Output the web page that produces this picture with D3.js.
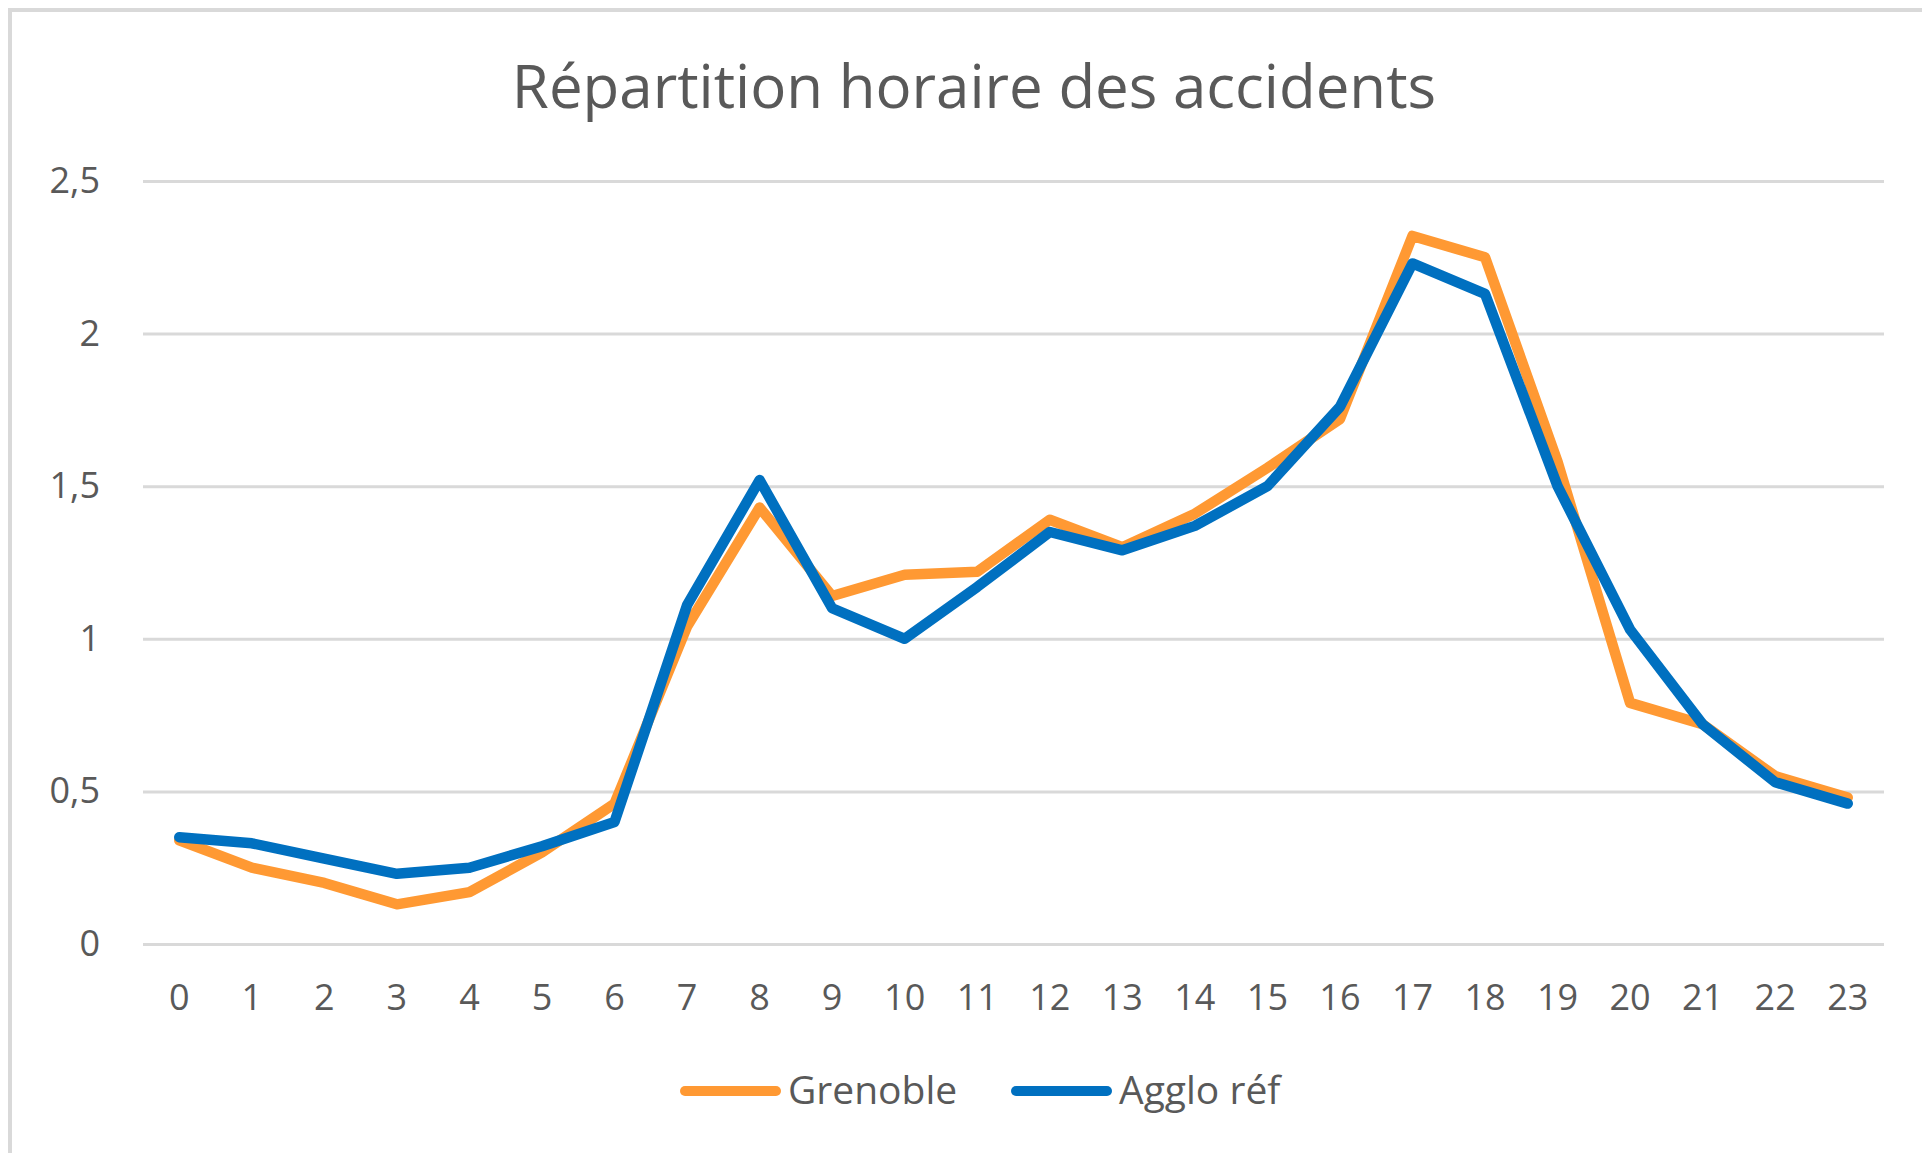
<!DOCTYPE html>
<html>
<head>
<meta charset="utf-8">
<script src="https://cdn.jsdelivr.net/npm/d3@7"></script>
<style>
  body { margin: 0; background: #fff; }
  svg text { font-family: "Open Sans", sans-serif; fill: #595959; }
  .grid line { stroke: #d9d9d9; stroke-width: 3; }
  .serie { fill: none; stroke-width: 10.5; stroke-linejoin: round; stroke-linecap: round; }
</style>
</head>
<body>
<svg width="1922" height="1153"></svg>
<script>
// heures de la journee
var heures = d3.range(0, 24);
// valeurs
var grenoble = [0.34, 0.25, 0.20, 0.13, 0.17, 0.30, 0.46, 1.04, 1.43, 1.14, 1.21, 1.22,
                1.39, 1.30, 1.41, 1.56, 1.72, 2.32, 2.25, 1.58, 0.79, 0.72, 0.55, 0.48];
var agglo = [0.35, 0.33, 0.28, 0.23, 0.25, 0.32, 0.40, 1.11, 1.52, 1.10, 1.00, 1.17,
             1.35, 1.29, 1.37, 1.50, 1.76, 2.23, 2.13, 1.50, 1.03, 0.72, 0.53, 0.46];
var yTicks = [0, 0.5, 1, 1.5, 2, 2.5];
var series = [
  { nom: "Grenoble", valeurs: grenoble, couleur: "#ff9933" },
  { nom: "Agglo réf", valeurs: agglo, couleur: "#0070c0" }
];

var svg = d3.select("svg");

// cadre (bords haut et gauche visibles)
svg.append("path")
    .attr("d", "M10,1153 V10 H1922")
    .attr("fill", "none")
    .attr("stroke", "#d9d9d9")
    .attr("stroke-width", 4);

// zone de trace
var plot = { left: 143, right: 1884, top: 181, bottom: 944 };

var x = d3.scaleBand().domain(heures).range([plot.left, plot.right]);
var y = d3.scaleLinear().domain([0, 2.5]).range([plot.bottom, plot.top]);

var fr = d3.formatLocale({ decimal: ",", thousands: " ", grouping: [3], currency: ["", " €"] });
var fmt = fr.format("~g");

// titre
svg.append("text")
    .attr("x", 974)
    .attr("y", 108)
    .attr("text-anchor", "middle")
    .style("font-size", "60px")
    .text("Répartition horaire des accidents");

// grille + axe y
var gy = svg.append("g")
    .attr("class", "grid")
    .attr("transform", "translate(" + plot.left + ",0)")
    .call(d3.axisLeft(y).tickValues(yTicks).tickSize(-(plot.right - plot.left)).tickPadding(43).tickFormat(fmt));
gy.select(".domain").remove();
gy.selectAll("text").style("font-size", "36px").attr("fill", "#595959");

// axe x
var gx = svg.append("g")
    .attr("transform", "translate(0," + plot.bottom + ")")
    .call(d3.axisBottom(x).tickSize(0).tickPadding(40));
gx.select(".domain").remove();
gx.selectAll("text").style("font-size", "36px").attr("fill", "#595959");

// courbes
var line = d3.line()
    .x(function(d, i) { return x(heures[i]) + x.bandwidth() / 2; })
    .y(function(d) { return y(d); });

svg.selectAll(".serie")
    .data(series)
    .enter().append("path")
    .attr("class", "serie")
    .attr("stroke", function(d) { return d.couleur; })
    .attr("d", function(d) { return line(d.valeurs); });

// legende
var legX = [680, 1011];
var leg = svg.selectAll(".leg")
    .data(series)
    .enter().append("g")
    .attr("class", "leg")
    .attr("transform", function(d, i) { return "translate(" + legX[i] + ",1091)"; });
leg.append("line")
    .attr("x1", 5).attr("x2", 96)
    .attr("stroke", function(d) { return d.couleur; })
    .attr("stroke-width", 10)
    .attr("stroke-linecap", "round");
leg.append("text")
    .attr("x", 108)
    .attr("y", 13)
    .style("font-size", "39px")
    .text(function(d) { return d.nom; });
</script>
</body>
</html>
